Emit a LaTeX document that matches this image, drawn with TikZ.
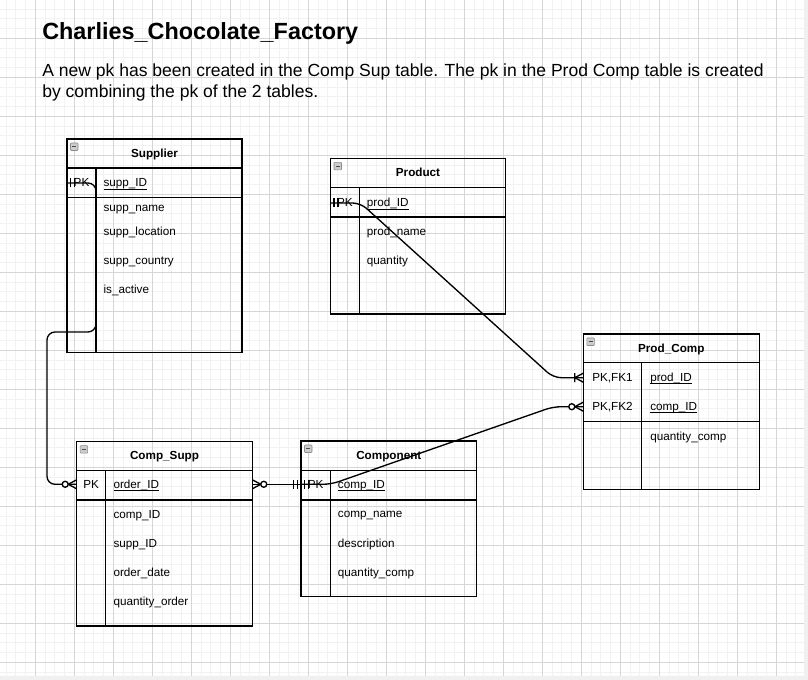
\documentclass[tikz,border=0pt]{standalone}
\usepackage{fontspec}
\setmainfont{Liberation Sans}
\usetikzlibrary{calc}
\newcommand\tfont{\fontsize{8.78}{10}\selectfont}
\newcommand\dfont{\fontsize{13.16}{15.5}\selectfont}
\newcommand\hfont{\fontsize{17.55}{21}\selectfont\bfseries}
\newcommand\keyul[1]{\underline{\smash{#1}}}
\tikzset{
  gminor/.style={black!5, line width=0.75pt},
  gmajor/.style={black!16, line width=0.75pt},
  tbox/.style={line width=1pt},
  conn/.style={line width=1pt, rounded corners=6pt},
  hdr/.style={anchor=base, inner sep=0pt, font=\tfont\bfseries},
  keyt/.style={anchor=base, inner sep=0pt, font=\tfont},
  fld/.style={anchor=base west, inner sep=0pt, font=\tfont},
  minbox/.pic={\draw[black!45, fill=black!20, rounded corners=0.5pt] (0,0) rectangle (7.5,7.5);
    \draw[black!70] (1.8,3.75) -- (5.7,3.75);},
  mone/.pic={\draw[line width=1pt] (3.5,-4.5) -- (3.5,4.5) (7.5,-4.5) -- (7.5,4.5);},
  omany/.pic={\draw[line width=1pt] (0,-4.5) -- (8.5,0) -- (0,4.5) (8.5,-4.5) -- (8.5,4.5);},
  zmany/.pic={\draw[line width=1pt] (0,-4.5) -- (8.5,0) -- (0,4.5);
    \draw[line width=1pt, fill=white] (11.5,0) circle [radius=3];}
}
\begin{document}
\begin{tikzpicture}[x=0.75pt,y=-0.75pt]
\useasboundingbox (0,0) rectangle (808,680);
\fill[white] (0,0) rectangle (808,680);
\fill[black!6] (0,676) rectangle (808,680) (804,0) rectangle (808,680);
\begin{scope}
\clip (0,0) rectangle (804,676);
\foreach \i in {-4,...,79} \draw[gminor] ({35.3+9.75*\i},0) -- ++(0,676);
\foreach \j in {-4,...,66} \draw[gminor] (0,{38.3+9.75*\j}) -- ++(804,0);
\foreach \i in {-1,...,20} \draw[gmajor] ({35.3+39*\i},0) -- ++(0,676);
\foreach \j in {-1,...,17} \draw[gmajor] (0,{38.3+39*\j}) -- ++(804,0);
\end{scope}

\node[anchor=base west, inner sep=0pt, font=\hfont] (title) at (42,39.5) {Charlies\_Chocolate\_Factory};
\node[anchor=base west, inner sep=0pt, font=\dfont] (desc) at (42,76.7) {A new pk has been created in the Comp Sup table. The pk in the Prod Comp table is created};
\node[anchor=base west, inner sep=0pt, font=\dfont] (desc2) at (42,97.3) {by combining the pk of the 2 tables.};

\draw[tbox] (67,139) rectangle (242,352.5);
\draw[tbox] (67,168) -- (242,168) (67,197.5) -- (242,197.5) (96,168) -- (96,352.5);
\pic at (70.5,143) {minbox};
\node[hdr] (sup) at (154.5,157.5) {Supplier};
\node[keyt] (supPK) at (81.5,187) {PK};
\node[fld] (supId) at (103.3,187) {\keyul{supp\_ID}};
\node[fld] (supName) at (103.3,211.3) {supp\_name};
\node[fld] (supLoc) at (103.3,235.7) {supp\_location};
\node[fld] (supCtry) at (103.3,264.7) {supp\_country};
\node[fld] (supAct) at (103.3,294) {is\_active};

\draw[tbox] (330.5,158.3) rectangle (505.5,314);
\draw[tbox] (330.5,187.7) -- (505.5,187.7) (330.5,217) -- (505.5,217) (359.3,187.7) -- (359.3,314);
\pic at (334,162.3) {minbox};
\node[hdr] (prod) at (418,177) {Product};
\node[keyt] (prodPK) at (344.9,207) {PK};
\node[fld] (prodId) at (366.7,207) {\keyul{prod\_ID}};
\node[fld] (prodName) at (366.7,235.7) {prod\_name};
\node[fld] (prodQty) at (366.7,264.7) {quantity};

\draw[tbox] (583.3,334) rectangle (759.3,489.7);
\draw[tbox] (583.3,362.7) -- (759.3,362.7) (583.3,421.7) -- (759.3,421.7) (641.7,362.7) -- (641.7,489.7);
\pic at (586.8,338) {minbox};
\node[hdr] (pc) at (671.3,352.3) {Prod\_Comp};
\node[keyt] (pcPK1) at (612.5,381.7) {PK,FK1};
\node[fld] (pcProd) at (650,381.7) {\keyul{prod\_ID}};
\node[keyt] (pcPK2) at (612.5,410.7) {PK,FK2};
\node[fld] (pcComp) at (650,410.7) {\keyul{comp\_ID}};
\node[fld] (pcQty) at (650,440.7) {quantity\_comp};

\draw[tbox] (76.7,441.7) rectangle (252.3,626);
\draw[tbox] (76.7,470.7) -- (252.3,470.7) (76.7,500) -- (252.3,500) (105.7,470.7) -- (105.7,626);
\pic at (80.2,445.7) {minbox};
\node[hdr] (cs) at (164.5,460) {Comp\_Supp};
\node[keyt] (csPK) at (91.2,488.3) {PK};
\node[fld] (csOrder) at (113.3,488.3) {\keyul{order\_ID}};
\node[fld] (csComp) at (113.3,519) {comp\_ID};
\node[fld] (csSupp) at (113.3,548) {supp\_ID};
\node[fld] (csDate) at (113.3,577) {order\_date};
\node[fld] (csQty) at (113.3,606) {quantity\_order};

\draw[tbox] (301,441) rectangle (476.7,596.7);
\draw[tbox] (301,470.7) -- (476.7,470.7) (301,500) -- (476.7,500) (330.3,470.7) -- (330.3,596.7);
\pic at (304.5,445) {minbox};
\node[hdr] (cmp) at (388.8,460) {Component};
\node[keyt] (cmpPK) at (315.7,488.3) {PK};
\node[fld] (cmpId) at (337.7,488.3) {\keyul{comp\_ID}};
\node[fld] (cmpName) at (337.7,518) {comp\_name};
\node[fld] (cmpDesc) at (337.7,547.7) {description};
\node[fld] (cmpQty) at (337.7,577) {quantity\_comp};

\coordinate (supK) at (67,183);
\coordinate (csL) at (76.7,484.3);
\coordinate (csR) at (252.3,484.3);
\coordinate (prodK) at (330.5,203);
\coordinate (pcK1) at (583.3,377.7);
\coordinate (pcK2) at (583.3,406.7);
\coordinate (cmpK) at (301,484.3);

\draw[conn] (supK) -- ++(29,0) -- ++(0,149) -- ++(-49,0) |- (csL);
\draw[conn] (prodK) -- ++(30,0) -- ($(pcK1)+(-30,0)$) -- (pcK1);
\draw[conn] (pcK2) -- ++(-30,0) -- ($(cmpK)+(30,0)$) -- (cmpK);
\draw[conn] (csR) -- (cmpK);

\pic at (supK) {mone};
\pic[rotate=180] at (csL) {zmany};
\pic at (prodK) {mone};
\pic[rotate=180] at (pcK1) {omany};
\pic[rotate=180] at (pcK2) {zmany};
\pic at (cmpK) {mone};
\pic[rotate=180] at (cmpK) {mone};
\pic at (csR) {zmany};
\end{tikzpicture}
\end{document}
